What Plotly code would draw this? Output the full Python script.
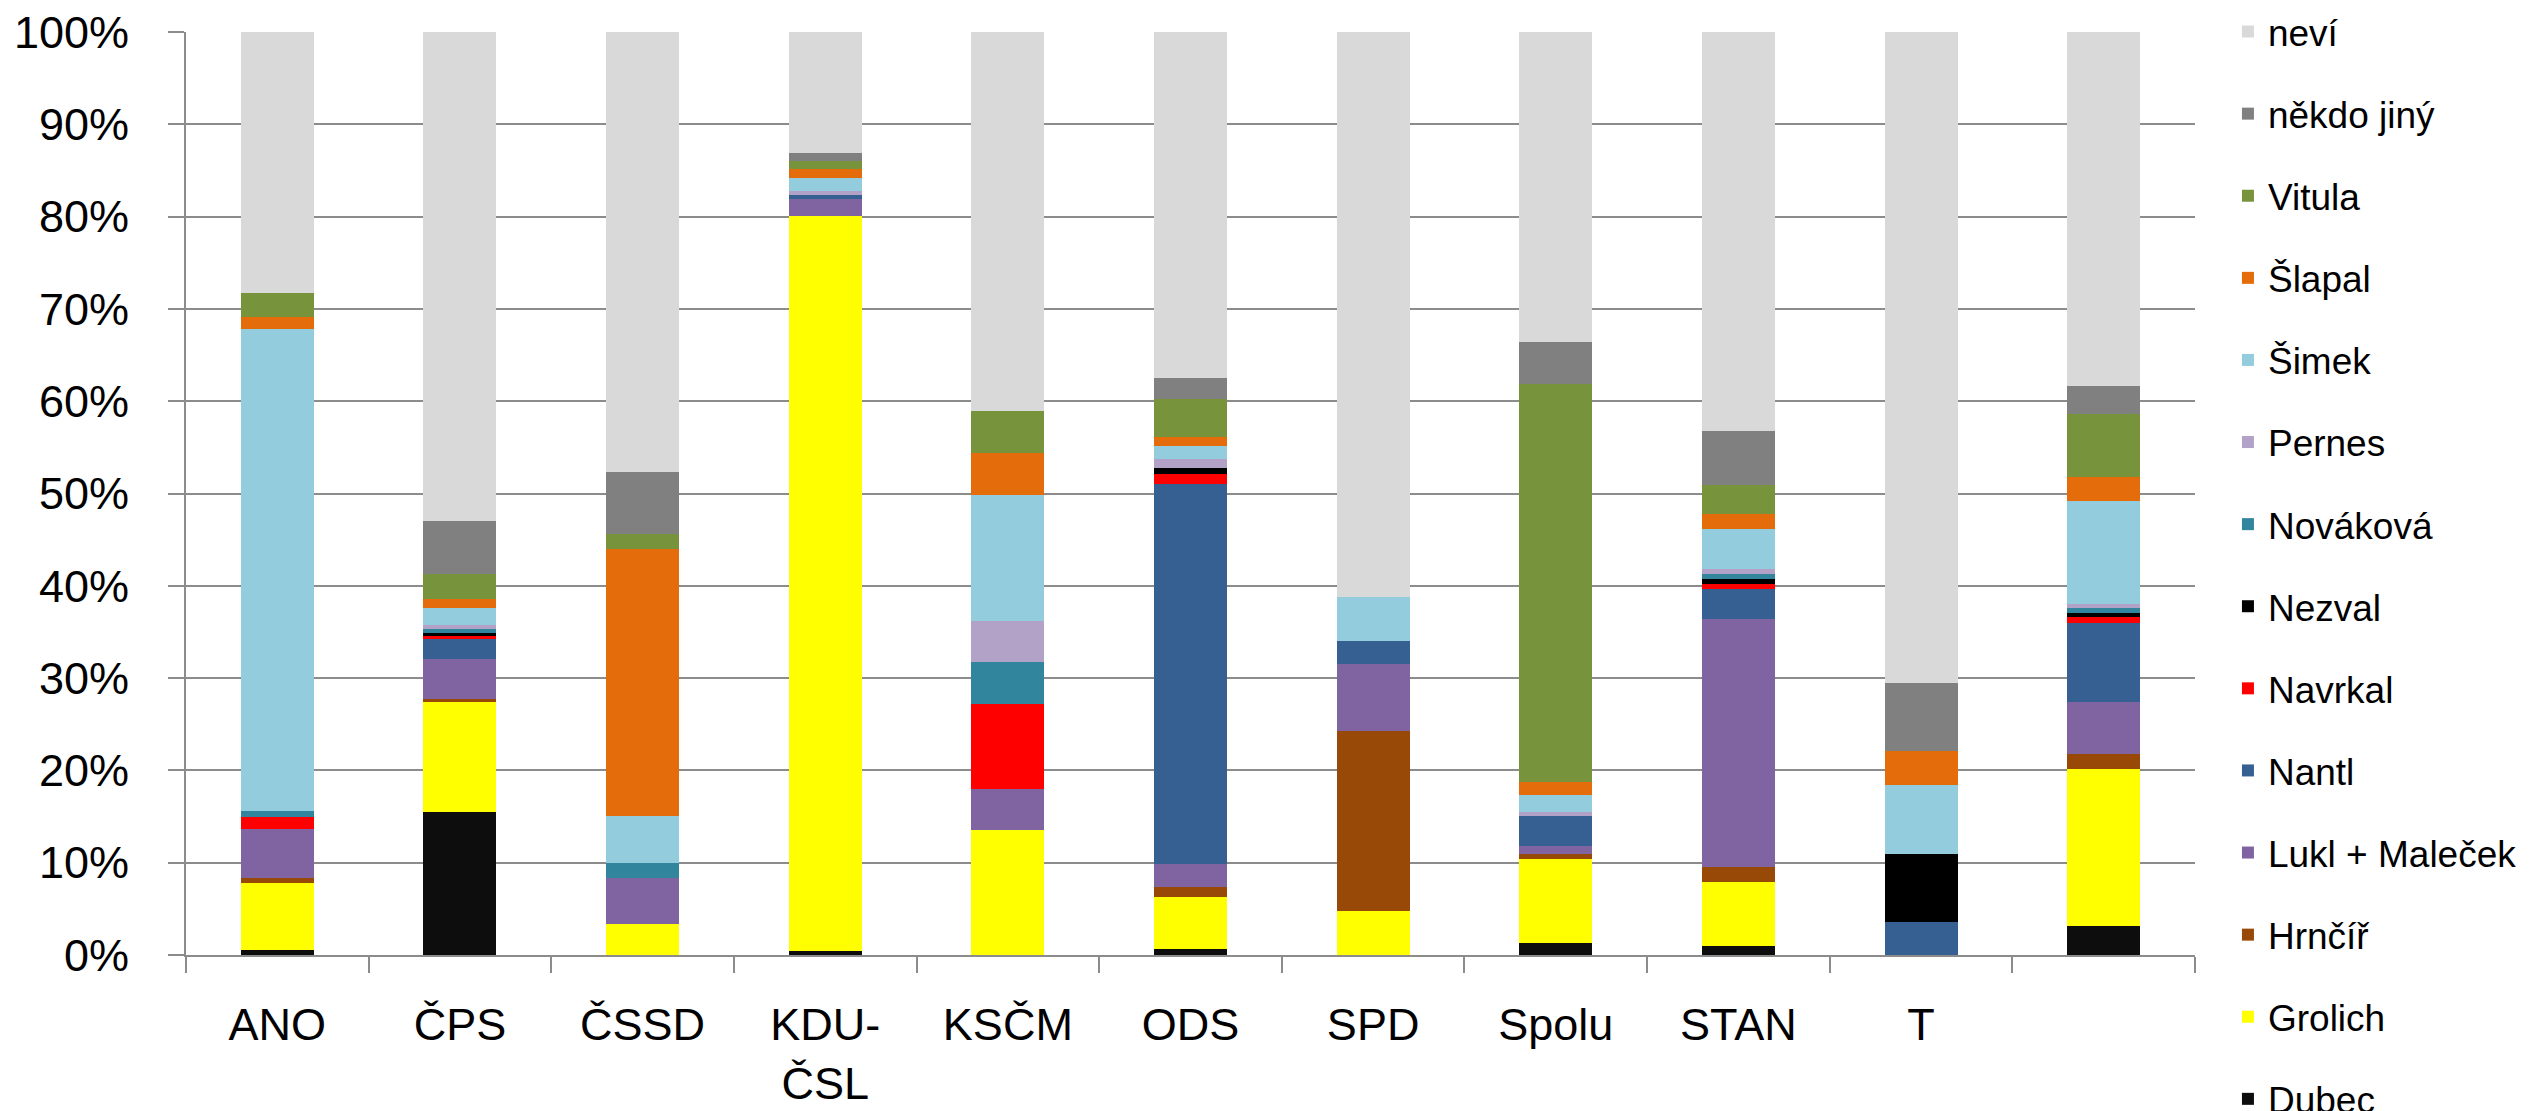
import plotly.graph_objects as go

categories = ["ANO", "ČPS", "ČSSD", "KDU-<br>ČSL", "KSČM", "ODS", "SPD", "Spolu", "STAN", "T", " "]

series_names = ["Dubec", "Grolich", "Hrnčíř", "Lukl + Maleček", "Nantl", "Navrkal", "Nezval",
                "Nováková", "Pernes", "Šimek", "Šlapal", "Vitula", "někdo jiný", "neví"]

dubec = [0.54, 15.5, 0, 0.41, 0, 0.61, 0, 1.29, 0.95, 0, 3.11]
grolich = [7.25, 11.92, 3.32, 79.62, 13.54, 5.69, 4.74, 9.14, 6.97, 0, 17.0]
hrncir = [0.54, 0.34, 0, 0, 0, 1.08, 19.5, 0.47, 1.63, 0, 1.62]
lukl = [5.35, 4.33, 5.01, 1.89, 4.47, 2.44, 7.31, 0.95, 26.88, 0, 5.69]
nantl = [0, 2.17, 0, 0.41, 0, 41.23, 2.44, 3.18, 3.25, 3.59, 8.53]
navrkal = [1.22, 0.27, 0, 0, 9.21, 1.08, 0, 0, 0.54, 0, 0.68]
nezval = [0, 0.34, 0, 0, 0, 0.61, 0, 0, 0.54, 7.38, 0.47]
novakova = [0.67, 0.47, 1.69, 0, 4.53, 0, 0, 0, 0.54, 0, 0.48]
pernes = [0, 0.41, 0, 0.41, 4.47, 1.02, 0, 0.41, 0.47, 0, 0.47]
simek = [52.27, 1.83, 5.08, 1.42, 13.61, 1.35, 4.81, 1.89, 4.34, 7.45, 11.17]
slapal = [1.29, 1.01, 28.9, 1.01, 4.6, 1.02, 0, 1.36, 1.62, 3.72, 2.57]
vitula = [2.64, 2.71, 1.63, 0.82, 4.47, 4.13, 0, 43.12, 3.18, 0, 6.84]
nekdo = [0, 5.76, 6.71, 0.94, 0, 2.3, 0, 4.61, 5.9, 7.38, 3.05]
nevi = [28.2, 52.94, 47.66, 13.07, 41.1, 37.44, 61.2, 33.58, 43.19, 70.48, 38.32]

series_values = [dubec, grolich, hrncir, lukl, nantl, navrkal, nezval, novakova,
                 pernes, simek, slapal, vitula, nekdo, nevi]

colors = ["#0D0D0D", "#FFFF00", "#984807", "#8064A2", "#376092", "#FF0000", "#000000",
          "#31859C", "#B3A2C7", "#93CDDD", "#E46C0A", "#77933C", "#808080", "#D9D9D9"]

y_ticks = list(range(0, 101, 10))

fig = go.Figure()
n = len(series_names)
for i, (name, vals, col) in enumerate(zip(series_names, series_values, colors)):
    fig.add_trace(go.Bar(
        x=categories, y=vals, name=name, legendgroup=name, legendrank=n - i,
        marker=dict(color=col, line=dict(width=0)),
    ))

FONT = "Liberation Sans"
GRID = "#8C8C8C"

fig.update_layout(
    width=2521, height=1103,
    barmode="stack", bargap=0.6,
    plot_bgcolor="white", paper_bgcolor="white",
    margin=dict(l=178, r=334, t=24, b=156, autoexpand=False),
    font=dict(family=FONT, size=45, color="black"),
    showlegend=True,
    legend=dict(
        x=1.0164, y=1.0336, xanchor="left", yanchor="top",
        traceorder="grouped", tracegroupgap=31,
        font=dict(family=FONT, size=37, color="black"),
        bgcolor="rgba(0,0,0,0)",
        itemwidth=30, maxheight=1200,
    ),
    xaxis=dict(
        type="category",
        showgrid=False,
        showline=True, linecolor=GRID, linewidth=2,
        ticks="outside", tickson="boundaries", ticklen=16, tickcolor=GRID, tickwidth=2,
        ticklabelstandoff=29, ticklabeloverflow="allow",
        tickfont=dict(family=FONT, size=45, color="black"),
    ),
    yaxis=dict(
        range=[0, 100], tickvals=y_ticks, ticktext=[f"{v}%" for v in y_ticks],
        showgrid=True, gridcolor=GRID, gridwidth=2,
        showline=True, linecolor=GRID, linewidth=2,
        ticks="outside", ticklen=16, tickcolor=GRID, tickwidth=2,
        ticklabelstandoff=30, ticklabeloverflow="allow",
        tickfont=dict(family=FONT, size=45, color="black"),
        zeroline=False,
    ),
)

fig.write_html("out.html")
